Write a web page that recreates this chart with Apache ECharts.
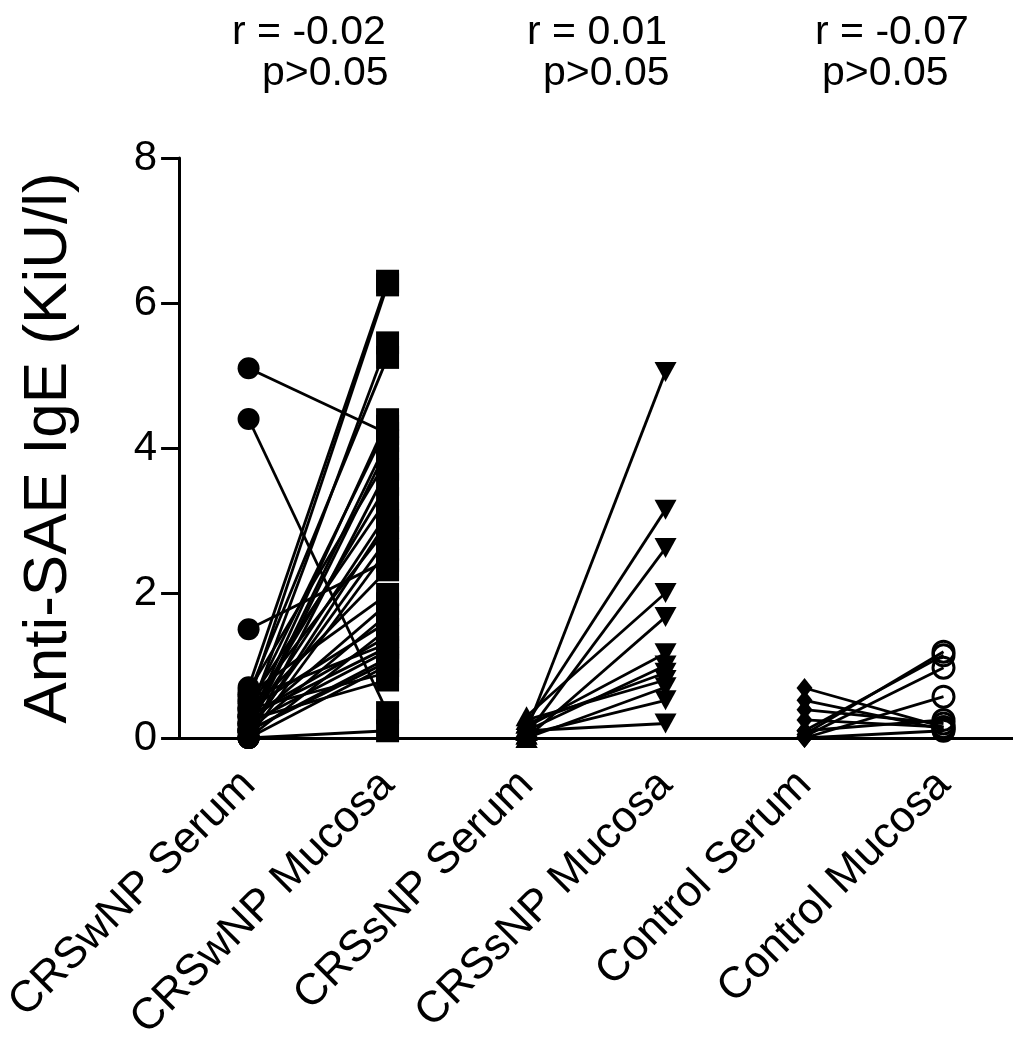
<!DOCTYPE html>
<html>
<head>
<meta charset="utf-8">
<script src="https://cdn.jsdelivr.net/npm/echarts@6/dist/echarts.min.js"></script>
<style>
html,body{margin:0;padding:0;background:#fff;}
#chart{width:1013px;height:1048px;}
</style>
</head>
<body>
<div id="chart"></div>
<script>
// Categories (x axis tick labels)
var categories = ['CRSwNP Serum', 'CRSwNP Mucosa', 'CRSsNP Serum', 'CRSsNP Mucosa', 'Control Serum', 'Control Mucosa'];

// Paired values (KiU/l)
var wnpSerum  = [5.1, 4.4, 1.5, 0.7, 0.5, 0.3, 0.6, 0.2, 0.4, 0.1, 0.65, 0.0, 0.3, 0.5, 0.2, 0.45, 0.1, 0.0, 0.35, 0.6, 0.2, 0.1, 0.4, 0.0, 0.3, 0.55, 0.2, 0.1, 0.0, 0.4, 0.25, 0.15, 0.05, 0.3, 0.0, 0.1];
var wnpMucosa = [4.2, 0.35, 2.45, 6.3, 6.25, 5.45, 5.25, 4.39, 4.3, 4.0, 3.85, 3.7, 3.5, 3.3, 3.1, 2.9, 2.75, 2.6, 2.32, 1.98, 1.85, 1.7, 1.6, 1.5, 1.4, 1.3, 1.2, 1.1, 1.0, 0.9, 0.8, 4.1, 3.0, 1.25, 0.1, 1.05];

var snpSerum  = [0.1, 0.2, 0.05, 0.3, 0.0, 0.15, 0.1, 0.25, 0.0, 0.05, 0.1, 0.2];
var snpMucosa = [5.05, 3.15, 2.62, 2.0, 1.67, 1.17, 1.0, 0.8, 0.7, 0.52, 0.2, 0.9];

var ctlSerum  = [0.69, 0.52, 0.39, 0.25, 0.1, 0.02, 0.0, 0.05, 0.0, 0.1];
var ctlMucosa = [0.15, 0.12, 0.2, 0.15, 1.14, 0.97, 0.57, 1.19, 0.1, 0.25];

// Correlation annotations
var rLabels = ['r = -0.02', 'r = 0.01', 'r = -0.07'];
var pLabels = ['p>0.05', 'p>0.05', 'p>0.05'];

// Y axis ticks
var yMin = 0, yMax = 8, yStep = 2;

var FONT = 'Liberation Sans, Arial, sans-serif';
var series = [];

function addPairs(serum, mucosa, c1, c2) {
  for (var i = 0; i < serum.length; i++) {
    series.push({
      type: 'line',
      data: [[categories[c1], serum[i]], [categories[c2], mucosa[i]]],
      showSymbol: false,
      symbol: 'none',
      silent: true,
      z: 2,
      lineStyle: { color: '#000', width: 2.8 }
    });
  }
}
addPairs(wnpSerum, wnpMucosa, 0, 1);
addPairs(snpSerum, snpMucosa, 2, 3);
addPairs(ctlSerum, ctlMucosa, 4, 5);

function pts(vals, c) { return vals.map(function (v) { return [categories[c], v]; }); }

var solid = { color: '#000', opacity: 1 };
series.push({ type: 'scatter', z: 5, data: pts(wnpSerum, 0), symbol: 'circle', symbolSize: 22, itemStyle: solid });
series.push({ type: 'scatter', z: 5, data: pts(wnpMucosa, 1), symbol: 'rect', symbolSize: 23, itemStyle: solid });
series.push({ type: 'scatter', z: 5, data: pts(snpSerum, 2), symbol: 'triangle', symbolSize: [22, 20], itemStyle: solid });
series.push({ type: 'scatter', z: 5, data: pts(snpMucosa, 3), symbol: 'triangle', symbolRotate: 180, symbolSize: [22, 20], itemStyle: solid });
series.push({ type: 'scatter', z: 5, data: pts(ctlSerum, 4), symbol: 'diamond', symbolSize: [16, 20], itemStyle: solid });
series.push({ type: 'scatter', z: 5, data: pts(ctlMucosa, 5), symbol: 'circle', symbolSize: 21, itemStyle: { color: 'rgba(0,0,0,0)', borderColor: '#000', borderWidth: 3, opacity: 1 } });

var chart = echarts.init(document.getElementById('chart'), null, { renderer: 'canvas' });

var graphics = [];
var rX = [232, 527, 815];
var pX = [262, 543, 822];
for (var k = 0; k < 3; k++) {
  graphics.push({ type: 'text', left: rX[k], top: 12, style: { text: rLabels[k], fontSize: 41, fontFamily: FONT, fill: '#000' } });
  graphics.push({ type: 'text', left: pX[k], top: 53, style: { text: pLabels[k], fontSize: 41, fontFamily: FONT, fill: '#000' } });
}

chart.setOption({
  animation: false,
  backgroundColor: '#fff',
  textStyle: { fontFamily: FONT },
  grid: { left: 178, right: -8, top: 158, bottom: 310, containLabel: false },
  graphic: graphics,
  xAxis: {
    type: 'category',
    data: categories,
    boundaryGap: true,
    axisLine: { lineStyle: { color: '#000', width: 3 } },
    axisTick: { alignWithLabel: true, length: 18, lineStyle: { color: '#000', width: 3 } },
    axisLabel: { rotate: 45, fontSize: 44, color: '#000', fontFamily: FONT, margin: 40, interval: 0 },
    splitLine: { show: false }
  },
  yAxis: {
    type: 'value',
    min: yMin, max: yMax, interval: yStep,
    name: 'Anti-SAE IgE (KiU/l)',
    nameLocation: 'middle',
    nameRotate: 90,
    nameGap: 99,
    nameTextStyle: { fontSize: 62, color: '#000', fontFamily: FONT },
    axisLine: { show: true, lineStyle: { color: '#000', width: 3 } },
    axisTick: { show: true, length: 18, lineStyle: { color: '#000', width: 3 } },
    axisLabel: { fontSize: 42, color: '#000', fontFamily: FONT, margin: 22 },
    splitLine: { show: false }
  },
  series: series
});
</script>
</body>
</html>
